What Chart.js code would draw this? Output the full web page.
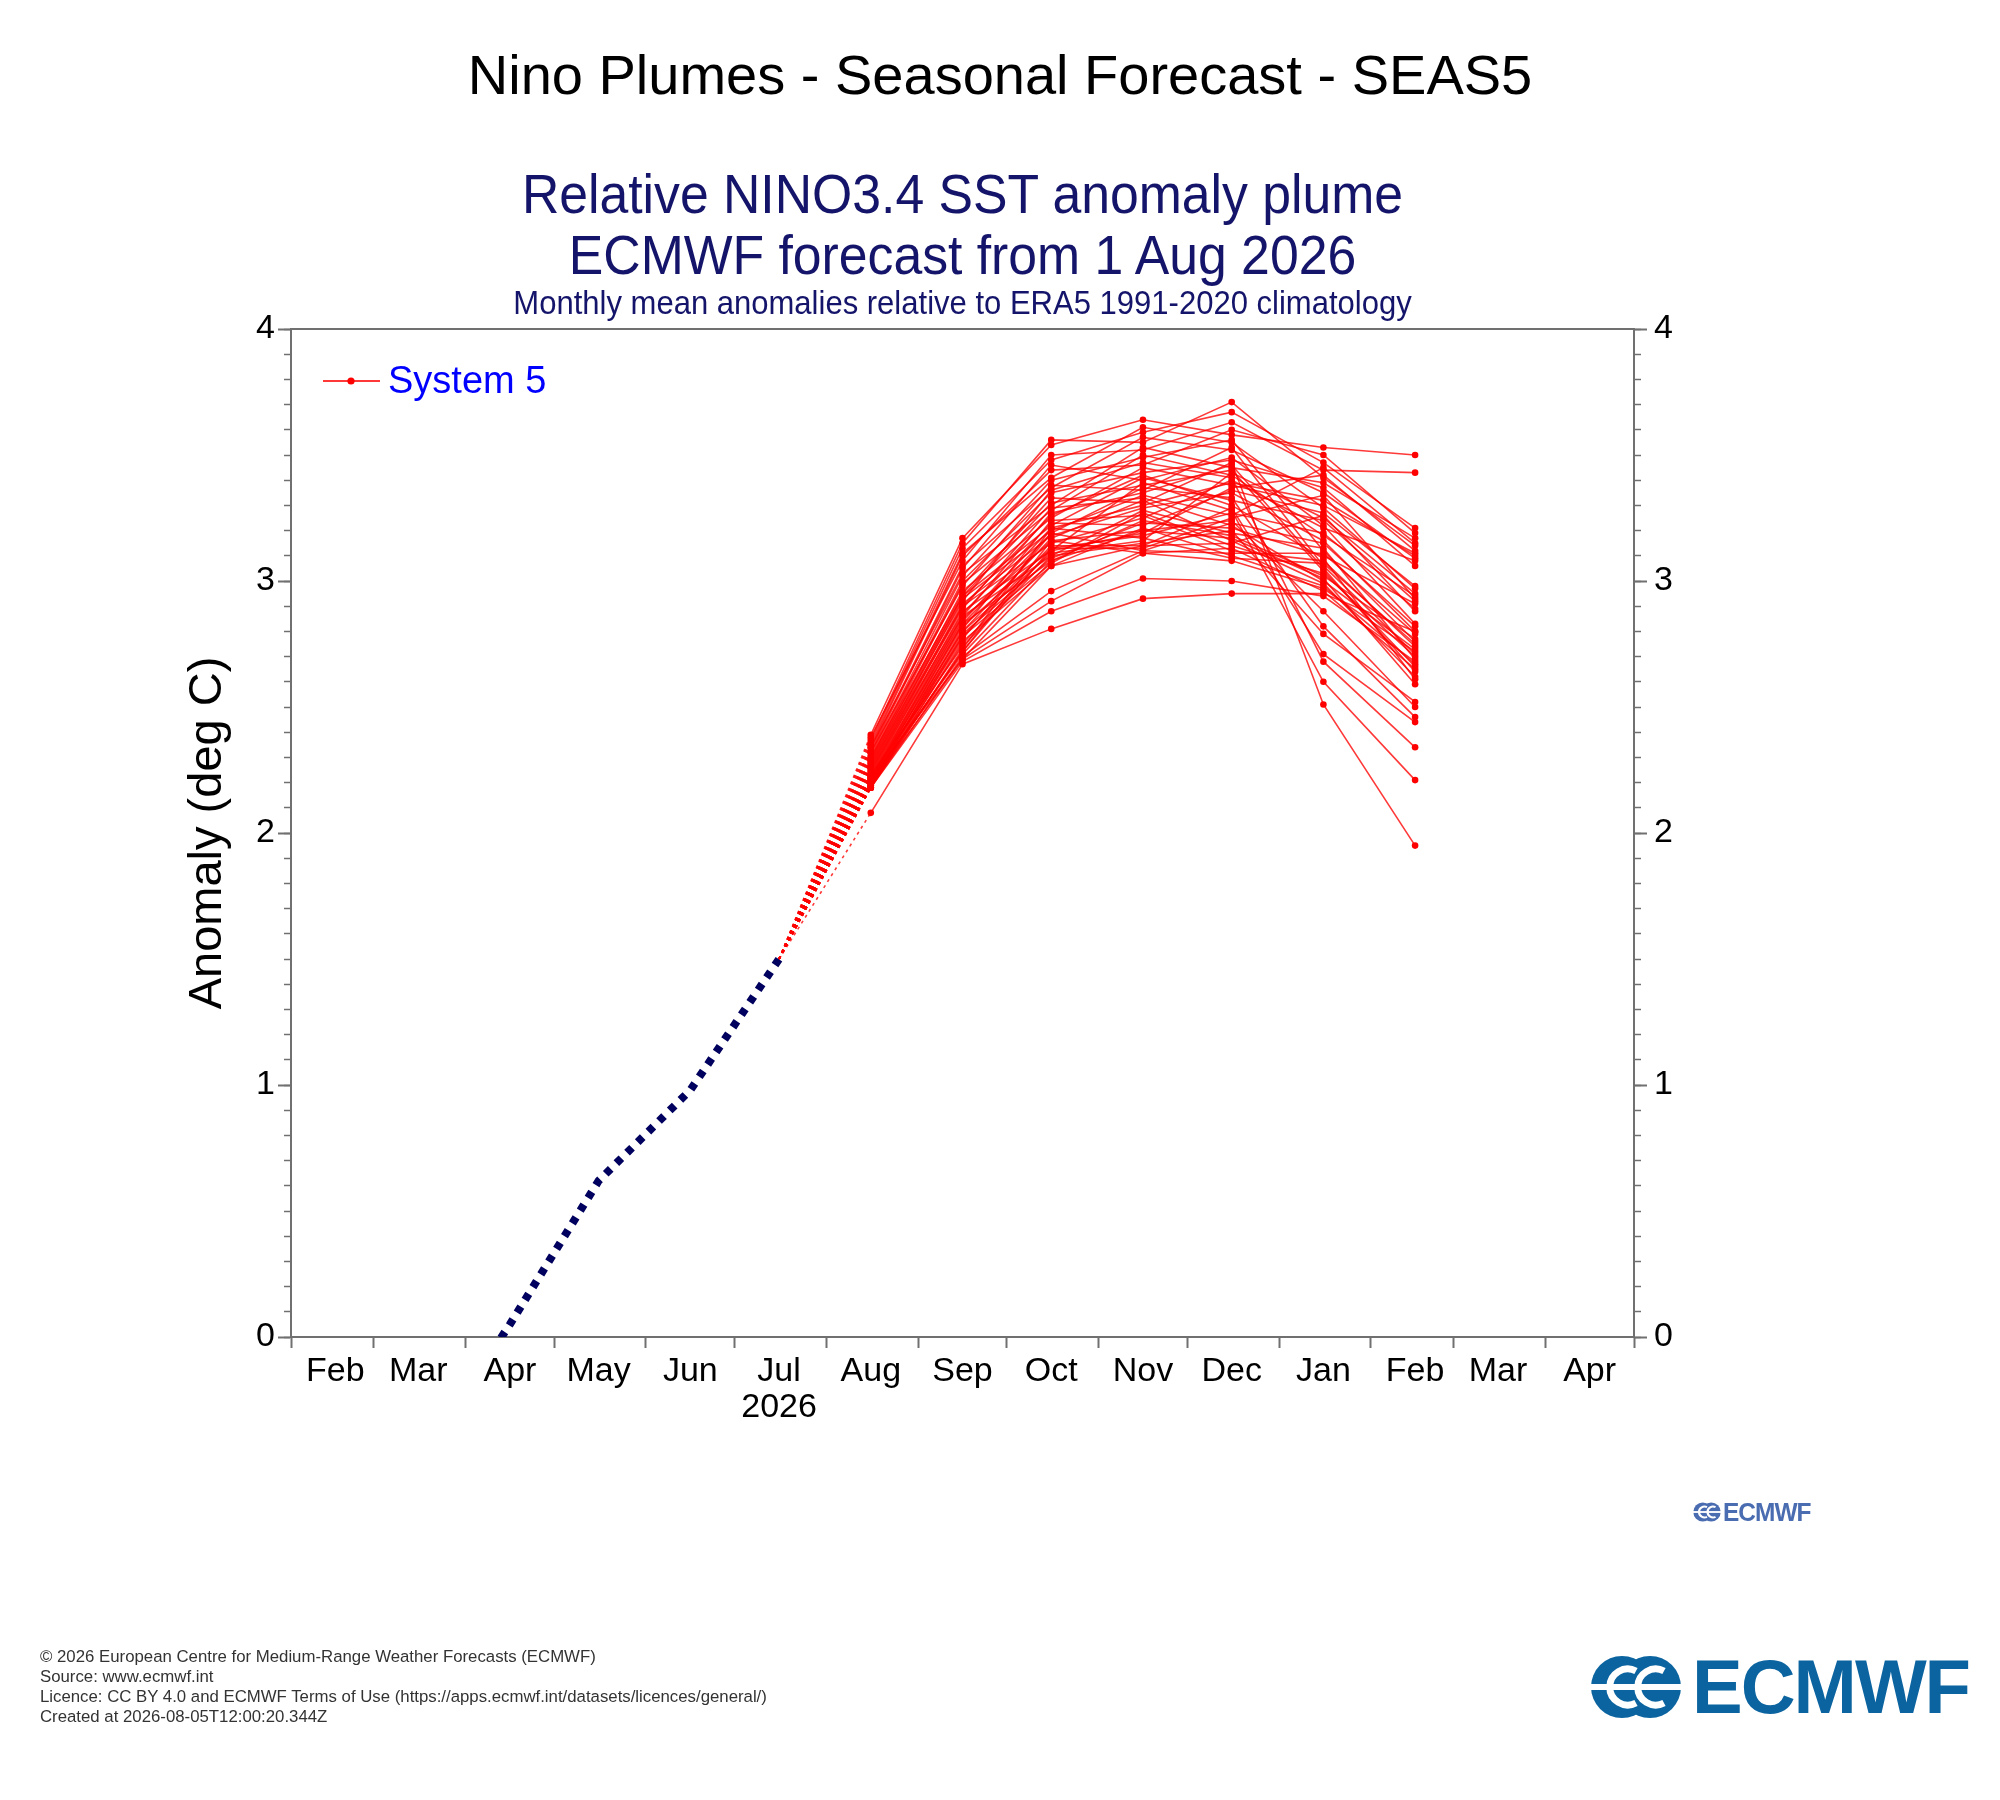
<!DOCTYPE html>
<html>
<head>
<meta charset="utf-8">
<title>Nino Plumes - Seasonal Forecast - SEAS5</title>
<script src="https://cdn.jsdelivr.net/npm/chart.js@4.4.1/dist/chart.umd.min.js"></script>
<style>
  html, body { margin: 0; padding: 0; background: #fff; }
  body { width: 2000px; height: 1800px; position: relative; overflow: hidden;
         font-family: 'Liberation Sans', Arial, sans-serif; }
  #wrap { position: absolute; left: 0; top: 0; width: 2000px; height: 1800px; }
  .txt { position: absolute; white-space: nowrap; }
  #mainTitle { left: 0; width: 2000px; top: 47px; text-align: center; font-size: 56px; line-height: 56px; color: #000; }
  .navy { left: 0; width: 1925px; text-align: center; color: #14146a; transform: scaleX(0.94); transform-origin: 962.5px 50%; }
  #sub1 { top: 167px; font-size: 55px; line-height: 55px; }
  #sub2 { top: 228px; font-size: 55px; line-height: 55px; }
  #sub3 { top: 286px; font-size: 33px; line-height: 33px; }
  #footer { left: 40px; top: 1647px; font-size: 16.8px; line-height: 20px; color: #333; }
  #logoSmall { left: 1693px; top: 1499px; height: 26px; }
  #logoSmall span { position: absolute; left: 30px; top: 0; font-size: 26px; line-height: 26px; font-weight: bold; color: #4a6cb0;
                    transform: scaleX(0.94); transform-origin: 0 50%; letter-spacing: -1px; }
  #logoBig { left: 1590px; top: 1654px; height: 66px; }
  #logoBig span { position: absolute; left: 102px; top: 0; font-size: 76px; line-height: 66px; font-weight: bold; color: #0b64a0;
                  transform: scaleX(1.0); transform-origin: 0 50%; letter-spacing: -2px; }
</style>
</head>
<body>
<div id="wrap"><canvas id="plume"></canvas></div>

<div id="mainTitle" class="txt">Nino Plumes - Seasonal Forecast - SEAS5</div>
<div id="sub1" class="txt navy">Relative NINO3.4 SST anomaly plume</div>
<div id="sub2" class="txt navy">ECMWF forecast from 1 Aug 2026</div>
<div id="sub3" class="txt navy">Monthly mean anomalies relative to ERA5 1991-2020 climatology</div>

<div id="logoSmall" class="txt">
  <svg width="28" height="22" viewBox="0 0 92 64" style="position:absolute;left:0;top:2px">
    <circle cx="32" cy="32" r="31" fill="#4a6cb0"/>
    <circle cx="60" cy="32" r="31" fill="#4a6cb0"/>
    <path d="M46 16 A18 18 0 1 0 46 48" stroke="#fff" stroke-width="7" fill="none"/>
    <path d="M74 16 A18 18 0 1 0 74 48" stroke="#fff" stroke-width="7" fill="none"/>
    <rect x="0" y="29" width="92" height="6" fill="#fff"/>
  </svg>
  <span>ECMWF</span>
</div>

<div id="footer" class="txt">© 2026 European Centre for Medium-Range Weather Forecasts (ECMWF)<br>Source: www.ecmwf.int<br>Licence: CC BY 4.0 and ECMWF Terms of Use (https://apps.ecmwf.int/datasets/licences/general/)<br>Created at 2026-08-05T12:00:20.344Z</div>

<div id="logoBig" class="txt">
  <svg width="92" height="64" viewBox="0 0 92 64" style="position:absolute;left:0;top:1px">
    <circle cx="32" cy="32" r="31" fill="#0b64a0"/>
    <circle cx="60" cy="32" r="31" fill="#0b64a0"/>
    <path d="M46 16 A18 18 0 1 0 46 48" stroke="#fff" stroke-width="7" fill="none"/>
    <path d="M74 16 A18 18 0 1 0 74 48" stroke="#fff" stroke-width="7" fill="none"/>
    <rect x="0" y="29" width="92" height="6" fill="#fff"/>
  </svg>
  <span>ECMWF</span>
</div>

<script>
// months shown on the time axis, Feb 2026 .. Apr 2027
const monthNames = ['Feb', 'Mar', 'Apr', 'May', 'Jun', 'Jul', 'Aug', 'Sep', 'Oct', 'Nov', 'Dec', 'Jan', 'Feb', 'Mar', 'Apr'];
const monthDays = [28, 31, 30, 31, 30, 31, 31, 30, 31, 30, 31, 31, 28, 31, 30];
const yearLabel = '2026';
const yearLabelMonth = 5;   // written under "Jul"

// y axis
const yTickLabels = [0, 1, 2, 3, 4];

// observed anomaly (navy dotted), Mar..Jul 2026
const obsMonths = [1, 2, 3, 4, 5];
const obsValues = [-0.5, 0.05, 0.62, 0.98, 1.50];

// System 5 ensemble (51 members), one array per forecast month, Aug 2026 .. Feb 2027
const fcMonths = [6, 7, 8, 9, 10, 11, 12];
const fcAug = [2.39, 2.37, 2.36, 2.38, 2.35, 2.34, 2.33, 2.32, 2.34, 2.31, 2.30, 2.29, 2.32, 2.28, 2.30, 2.27, 2.29, 2.26, 2.28, 2.25, 2.27, 2.24, 2.26, 2.23, 2.25, 2.22, 2.24, 2.21, 2.23, 2.20, 2.22, 2.21, 2.19, 2.20, 2.22, 2.19, 2.18, 2.21, 2.20, 2.18, 2.19, 2.23, 2.18, 2.20, 2.19, 2.21, 2.18, 2.22, 2.19, 2.18, 2.08];
const fcSep = [3.17, 3.15, 3.13, 3.08, 3.11, 3.10, 3.06, 3.05, 3.03, 3.02, 3.00, 2.99, 2.98, 2.96, 2.95, 2.94, 2.94, 2.93, 2.92, 2.91, 2.90, 2.90, 2.89, 2.88, 2.87, 2.86, 2.86, 2.85, 2.84, 2.83, 2.83, 2.82, 2.81, 2.80, 2.80, 2.79, 2.78, 2.78, 2.77, 2.76, 2.75, 2.74, 2.73, 2.72, 2.72, 2.71, 2.70, 2.69, 2.69, 2.68, 2.67];
const fcOct = [3.54, 3.56, 3.48, 3.50, 3.41, 3.44, 3.37, 3.46, 3.30, 3.40, 3.35, 3.28, 3.38, 3.25, 3.33, 3.22, 3.31, 3.20, 3.36, 3.18, 3.26, 3.15, 3.29, 3.12, 3.23, 3.10, 3.27, 3.16, 3.21, 3.08, 3.19, 3.13, 3.24, 3.11, 3.17, 3.09, 3.14, 3.07, 3.19, 3.06, 3.12, 3.10, 3.21, 3.13, 3.16, 3.08, 2.96, 2.92, 3.06, 2.88, 2.81];
const fcNov = [3.64, 3.55, 3.59, 3.52, 3.61, 3.46, 3.57, 3.40, 3.53, 3.49, 3.43, 3.50, 3.36, 3.45, 3.31, 3.41, 3.38, 3.34, 3.47, 3.29, 3.42, 3.25, 3.33, 3.39, 3.22, 3.28, 3.35, 3.20, 3.30, 3.24, 3.37, 3.18, 3.26, 3.16, 3.32, 3.23, 3.14, 3.27, 3.12, 3.21, 3.19, 3.15, 3.17, 3.13, 3.11, 3.20, 3.12, 3.11, 3.14, 3.01, 2.93];
const fcDec = [3.58, 3.71, 3.67, 3.63, 3.55, 3.60, 3.52, 3.49, 3.45, 3.56, 3.48, 3.42, 3.53, 3.38, 3.47, 3.32, 3.44, 3.26, 3.41, 3.35, 3.30, 3.40, 3.22, 3.28, 3.36, 3.19, 3.46, 3.24, 3.39, 3.18, 3.33, 3.27, 3.12, 3.43, 3.16, 3.21, 3.29, 3.14, 3.23, 3.10, 3.37, 3.20, 3.09, 3.25, 3.13, 3.17, 3.11, 3.08, 3.15, 3.00, 2.95];
const fcJan = [3.53, 3.41, 3.47, 3.44, 3.29, 3.50, 3.35, 3.22, 3.39, 3.12, 3.37, 3.18, 3.06, 3.30, 2.51, 3.24, 3.04, 3.45, 2.68, 3.16, 3.09, 3.21, 3.00, 2.60, 3.27, 3.13, 3.05, 2.88, 3.32, 3.02, 2.82, 3.19, 3.08, 3.25, 2.99, 3.10, 2.71, 3.03, 3.15, 2.98, 3.42, 2.79, 3.07, 3.34, 2.96, 3.01, 3.11, 2.97, 3.26, 2.94, 2.95];
const fcFeb = [3.50, 3.14, 3.21, 3.43, 2.97, 3.19, 3.09, 2.83, 3.17, 2.76, 3.06, 2.94, 2.71, 3.11, 1.95, 2.92, 2.66, 3.15, 2.34, 2.80, 2.61, 3.08, 2.73, 2.21, 2.98, 2.69, 2.64, 2.50, 3.10, 2.77, 2.46, 2.89, 2.74, 2.95, 2.62, 2.91, 2.44, 2.70, 2.82, 2.67, 3.12, 2.52, 2.75, 2.93, 2.65, 2.59, 2.79, 2.72, 2.88, 2.68, 2.80];

const axisColor = '#707070';
const fontFamily = "'Liberation Sans', Arial, sans-serif";
Chart.defaults.font.family = fontFamily;

// month boundaries in days from 1 Feb 2026, values plotted on the 16th
const monthStart = [];
monthDays.reduce((acc, d) => { monthStart.push(acc); return acc + d; }, 0);
const totalDays = monthDays.reduce((a, b) => a + b, 0);
const boundaries = monthStart.concat([totalDays]);
const midDay = monthStart.map(s => s + 15);
const boundarySet = new Set(boundaries);
const midLabel = new Map(midDay.map((d, i) => [d, i === yearLabelMonth ? [monthNames[i], yearLabel] : monthNames[i]]));

const fcByMonth = [fcAug, fcSep, fcOct, fcNov, fcDec, fcJan, fcFeb];
const lastObs = obsValues[obsValues.length - 1];
const lastObsMonth = obsMonths[obsMonths.length - 1];

const memberSets = fcAug.map((_, i) => ({
  data: [{ x: midDay[lastObsMonth], y: lastObs }].concat(
    fcMonths.map((m, k) => ({ x: midDay[m], y: fcByMonth[k][i] }))),
  borderColor: 'rgba(255,0,0,0.78)',
  borderWidth: 1.6,
  pointRadius: c => (c.dataIndex === 0 ? 0 : 3.3),
  pointBackgroundColor: '#ff0000',
  pointBorderWidth: 0,
  tension: 0,
  segment: { borderDash: c => (c.p0DataIndex === 0 ? [3, 4] : undefined) }
}));

const obsSet = {
  data: obsMonths.map((m, k) => ({ x: midDay[m], y: obsValues[k] })),
  borderColor: '#00005e',
  borderWidth: 8,
  borderDash: [7, 8],
  borderCapStyle: 'butt',
  pointRadius: 0,
  tension: 0,
  clip: 0
};

// top edge of the frame and the "System 5" key
const framePlugin = {
  id: 'frame',
  afterDraw(chart) {
    const { ctx, chartArea: a } = chart;
    ctx.save();
    ctx.strokeStyle = axisColor;
    ctx.lineWidth = 2;
    ctx.beginPath();
    ctx.moveTo(a.left, a.top);
    ctx.lineTo(a.right, a.top);
    ctx.stroke();

    const ly = a.top + 52;
    ctx.strokeStyle = 'rgba(255,0,0,0.78)';
    ctx.lineWidth = 2;
    ctx.beginPath();
    ctx.moveTo(a.left + 32, ly);
    ctx.lineTo(a.left + 89, ly);
    ctx.stroke();
    ctx.fillStyle = '#ff0000';
    ctx.beginPath();
    ctx.arc(a.left + 60, ly, 3.6, 0, Math.PI * 2);
    ctx.fill();
    ctx.fillStyle = '#0000ff';
    ctx.font = '38px ' + fontFamily;
    ctx.textBaseline = 'middle';
    ctx.textAlign = 'left';
    ctx.fillText('System 5', a.left + 97, ly + 2);
    ctx.restore();
  }
};

const minorTicks = s => { s.ticks = Array.from({ length: 41 }, (_, i) => ({ value: i / 10 })); };
const majorTicks = s => { s.ticks = yTickLabels.map(v => ({ value: v })); };
const tickFont = { size: 34, family: fontFamily };

new Chart(document.getElementById('plume'), {
  type: 'line',
  data: { datasets: memberSets.concat([obsSet]) },
  options: {
    responsive: true,
    maintainAspectRatio: false,
    devicePixelRatio: 1,
    animation: false,
    layout: { padding: { left: 0, right: 0, top: 329, bottom: 363 } },
    plugins: { legend: { display: false }, tooltip: { enabled: false }, title: { display: false } },
    scales: {
      x: {
        type: 'linear',
        position: 'bottom',
        min: 0,
        max: totalDays,
        afterBuildTicks: s => {
          s.ticks = boundaries.concat(midDay).sort((a, b) => a - b).map(v => ({ value: v }));
        },
        afterFit: s => { s.height = 100; },
        ticks: {
          autoSkip: false,
          maxRotation: 0,
          padding: 6,
          color: '#000',
          font: { size: 34, family: fontFamily, lineHeight: 1.05 },
          callback: v => (midLabel.has(v) ? midLabel.get(v) : '')
        },
        grid: {
          drawOnChartArea: false,
          drawTicks: true,
          tickLength: 11,
          tickWidth: 2,
          tickColor: c => (c.tick && boundarySet.has(c.tick.value) ? axisColor : 'rgba(0,0,0,0)')
        },
        border: { display: true, color: axisColor, width: 2 }
      },
      y: {
        type: 'linear',
        position: 'left',
        weight: 1,
        min: 0,
        max: 4,
        afterBuildTicks: majorTicks,
        afterFit: s => { s.width = 291; },
        ticks: { color: '#000', font: tickFont, padding: 3 },
        grid: { drawOnChartArea: false, tickLength: 13, tickWidth: 2, tickColor: axisColor },
        border: { display: true, color: axisColor, width: 2 },
        title: {
          display: true,
          text: 'Anomaly (deg C)',
          color: '#000',
          font: { size: 47, family: fontFamily, lineHeight: 1.2 },
          padding: { top: 180, bottom: 0 }
        }
      },
      yMinor: {
        type: 'linear',
        position: 'left',
        weight: 0,
        min: 0,
        max: 4,
        afterBuildTicks: minorTicks,
        afterFit: s => { s.width = 0; },
        ticks: { display: false },
        grid: { drawOnChartArea: false, tickLength: 7, tickWidth: 1.5, tickColor: axisColor },
        border: { display: false }
      },
      y2: {
        type: 'linear',
        position: 'right',
        weight: 1,
        min: 0,
        max: 4,
        afterBuildTicks: majorTicks,
        afterFit: s => { s.width = 366; },
        ticks: { color: '#000', font: tickFont, padding: 7 },
        grid: { drawOnChartArea: false, tickLength: 13, tickWidth: 2, tickColor: axisColor },
        border: { display: true, color: axisColor, width: 2 }
      },
      y2Minor: {
        type: 'linear',
        position: 'right',
        weight: 0,
        min: 0,
        max: 4,
        afterBuildTicks: minorTicks,
        afterFit: s => { s.width = 0; },
        ticks: { display: false },
        grid: { drawOnChartArea: false, tickLength: 7, tickWidth: 1.5, tickColor: axisColor },
        border: { display: false }
      }
    }
  },
  plugins: [framePlugin]
});
</script>
</body>
</html>
